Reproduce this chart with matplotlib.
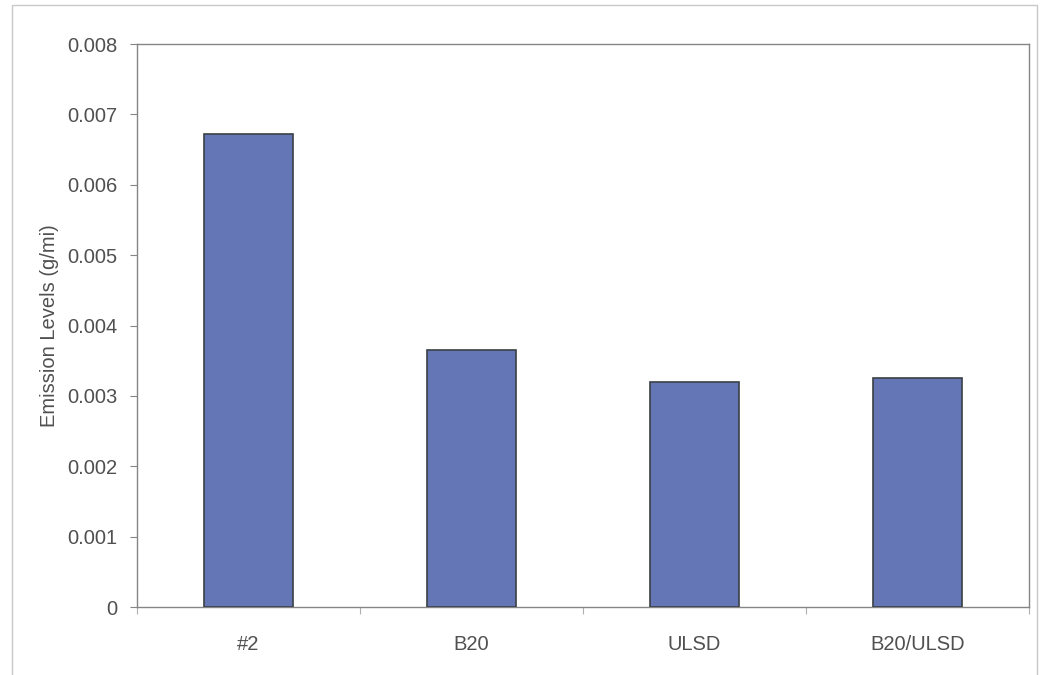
import numpy as np
import matplotlib
matplotlib.use('Agg')
import matplotlib.pyplot as plt
from matplotlib.patches import Rectangle

fuels = ['#2', 'B20', 'ULSD', 'B20/ULSD']
emissions = [0.00672, 0.00365, 0.00320, 0.00326]
yticks = [0, 0.001, 0.002, 0.003, 0.004, 0.005, 0.006, 0.007, 0.008]
ytick_labels = ['0', '0.001', '0.002', '0.003', '0.004', '0.005', '0.006', '0.007', '0.008']

plt.rcParams['font.family'] = ['Liberation Sans', 'DejaVu Sans']
text_col = '#505050'
spine_col = '#858585'

fig = plt.figure(figsize=(10.45, 6.75), dpi=100)
ax = fig.add_axes([0.1311, 0.1007, 0.8536, 0.8341])

x = np.arange(len(fuels))
ax.bar(x, emissions, width=0.4, color='#6476b6', edgecolor='#3a3f45', linewidth=1.2, zorder=3)

ax.set_xlim(-0.5, len(fuels) - 0.5)
ax.set_ylim(0, 0.008)
ax.set_yticks(yticks)
ax.set_yticklabels(ytick_labels)
ax.set_xticks(x)
ax.set_xticklabels(fuels)
ax.set_xticks(np.arange(-0.5, len(fuels), 1.0), minor=True)

ax.tick_params(axis='y', length=5, width=0.8, color=spine_col, pad=9, labelsize=14.5, labelcolor=text_col)
ax.tick_params(axis='x', which='major', length=0, pad=20, labelsize=14.5, labelcolor=text_col)
ax.tick_params(axis='x', which='minor', length=5, width=0.8, color='#b0b0b0')

for s in ax.spines.values():
    s.set_color(spine_col)
    s.set_linewidth(1.0)

ax.set_ylabel('Emission Levels (g/mi)', fontsize=14.5, color=text_col, labelpad=6)

# outer chart frame
fig.patches.append(Rectangle((0.0115, -0.02), 0.9808, 1.0126, transform=fig.transFigure,
                             fill=False, edgecolor='#c8c8c8', linewidth=1.0))

fig.savefig('out.png', dpi=100, facecolor='white')
